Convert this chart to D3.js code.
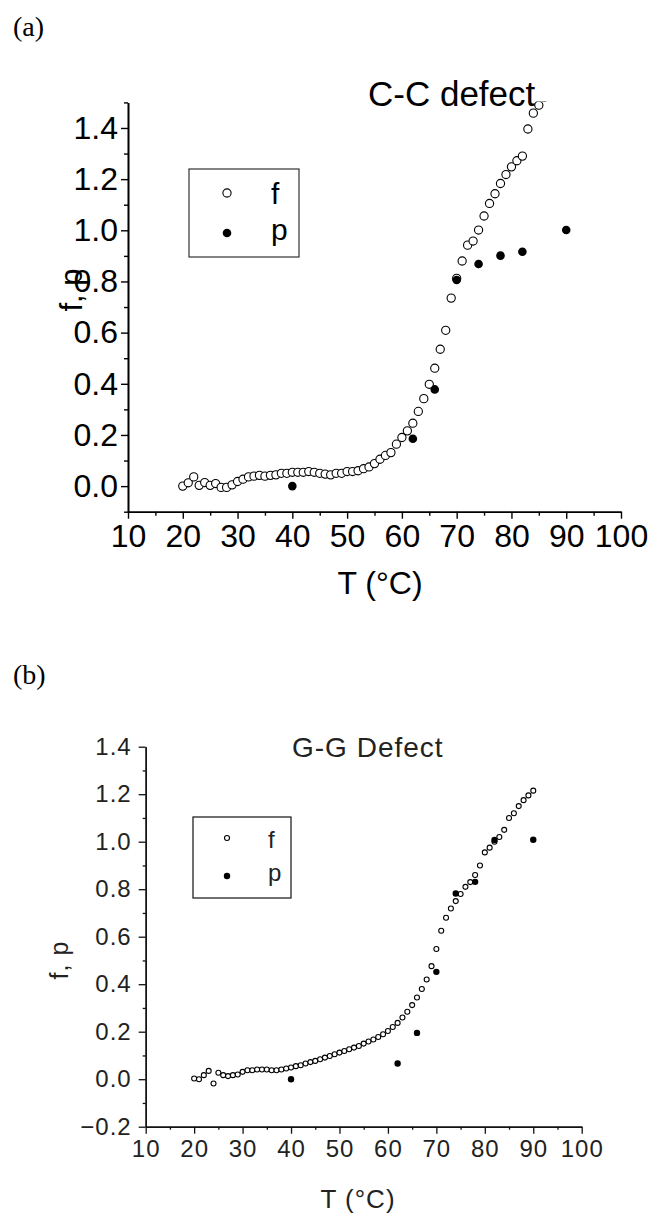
<!DOCTYPE html>
<html>
<head>
<meta charset="utf-8">
<script src="https://cdn.jsdelivr.net/npm/d3@7"></script>
<style>
  html, body { margin: 0; padding: 0; background: #fff; }
  svg { display: block; }
</style>
</head>
<body>
<svg id="chart" width="655" height="1215"></svg>
<script>
// ---------- DATA ----------
const xTicks = [10, 20, 30, 40, 50, 60, 70, 80, 90, 100];

// Panel (a): C-C defect
const aTitle = "C-C defect";
const aYTicks = [0.0, 0.2, 0.4, 0.6, 0.8, 1.0, 1.2, 1.4];
const aT_f = [20,21,22,23,24,25,26,27,28,29,30,31,32,33,34,35,36,37,38,39,40,41,42,43,44,45,46,47,48,49,50,51,52,53,54,55,56,57,58,59,60,61,62,63,64,65,66,67,68,69,70,71,72,73,74,75,76,77,78,79,80,81,82,83,84,85,86];
const aF = [0.000,0.013,0.036,0.003,0.014,0.003,0.010,-0.005,-0.005,0.005,0.018,0.027,0.036,0.039,0.042,0.039,0.042,0.044,0.050,0.050,0.054,0.054,0.054,0.057,0.054,0.050,0.047,0.044,0.050,0.050,0.057,0.057,0.060,0.068,0.075,0.088,0.105,0.120,0.131,0.164,0.190,0.216,0.246,0.292,0.342,0.398,0.461,0.535,0.609,0.735,0.812,0.880,0.942,0.958,1.001,1.056,1.105,1.143,1.183,1.218,1.248,1.272,1.290,1.396,1.458,1.489,1.520];
const aT_p = [40, 62, 66, 70, 74, 78, 82, 90];
const aP = [0.000, 0.185, 0.378, 0.806, 0.868, 0.901, 0.916, 1.001];

// Panel (b): G-G Defect
const bTitle = "G-G Defect";
const bYTicks = [-0.2, 0.0, 0.2, 0.4, 0.6, 0.8, 1.0, 1.2, 1.4];
const bT_f = [20,21,22,23,24,25,26,27,28,29,30,31,32,33,34,35,36,37,38,39,40,41,42,43,44,45,46,47,48,49,50,51,52,53,54,55,56,57,58,59,60,61,62,63,64,65,66,67,68,69,70,71,72,73,74,75,76,77,78,79,80,81,82,83,84,85,86,87,88,89,90];
const bF = [0.003,0.000,0.017,0.035,-0.018,0.027,0.017,0.013,0.017,0.020,0.031,0.038,0.038,0.041,0.041,0.041,0.038,0.038,0.041,0.045,0.049,0.055,0.059,0.066,0.072,0.077,0.084,0.091,0.098,0.105,0.112,0.119,0.126,0.133,0.140,0.150,0.159,0.167,0.178,0.189,0.203,0.220,0.237,0.260,0.284,0.312,0.344,0.380,0.420,0.476,0.548,0.625,0.680,0.719,0.750,0.780,0.810,0.830,0.860,0.900,0.955,0.975,1.000,1.020,1.050,1.100,1.120,1.150,1.175,1.195,1.215];
const bT_p = [40, 62, 66, 70, 74, 78, 82, 90];
const bP = [0.000, 0.066, 0.195, 0.452, 0.782, 0.831, 1.007, 1.008];

const legendLabels = ["f", "p"];
const xTitle = "T (°C)";
const yTitle = "f, p";

// ---------- DRAW ----------
const svg = d3.select("#chart");

function panel(cfg) {
  const g = svg.append("g");
  const x = d3.scaleLinear().domain([10, 100]).range(cfg.xRange);
  const y = d3.scaleLinear().domain(cfg.yDomain).range(cfg.yRange);
  const fmt = d3.format(".1f");

  // panel letter
  g.append("text").attr("x", cfg.letterX).attr("y", cfg.letterY)
    .attr("font-family", "'Liberation Serif', 'Times New Roman', serif")
    .attr("font-size", cfg.letterSize).attr("fill", "#000").text(cfg.letter);

  // clip
  const clipId = "clip" + cfg.letter.replace(/\W/g, "");
  svg.append("clipPath").attr("id", clipId).append("rect")
    .attr("x", cfg.xRange[0]).attr("y", cfg.yRange[1] - 1)
    .attr("width", cfg.xRange[1] - cfg.xRange[0] + 10)
    .attr("height", cfg.yRange[0] - cfg.yRange[1] + 1);

  // minor ticks
  const xMinor = xTicks.slice(0, -1).map(v => v + 5);
  const yMinor = cfg.yMinor;

  const xAxis = g.append("g").attr("transform", `translate(0,${cfg.yRange[0]})`)
    .call(d3.axisBottom(x).tickValues(xTicks).tickSize(cfg.majorLen).tickPadding(cfg.xPad).tickSizeOuter(0).tickFormat(d3.format("d")));
  const xAxisMinor = g.append("g").attr("transform", `translate(0,${cfg.yRange[0]})`)
    .call(d3.axisBottom(x).tickValues(xMinor).tickSize(cfg.minorLen).tickSizeOuter(0).tickFormat(""));
  const yAxis = g.append("g").attr("transform", `translate(${cfg.xRange[0]},0)`)
    .call(d3.axisLeft(y).tickValues(cfg.yTicks).tickSize(cfg.majorLen).tickPadding(cfg.yPad).tickSizeOuter(0).tickFormat(fmt));
  const yAxisMinor = g.append("g").attr("transform", `translate(${cfg.xRange[0]},0)`)
    .call(d3.axisLeft(y).tickValues(yMinor).tickSize(cfg.minorLen).tickSizeOuter(0).tickFormat(""));

  [xAxis, xAxisMinor, yAxis, yAxisMinor].forEach(a => {
    a.selectAll(".domain").attr("stroke", cfg.axisColor).attr("stroke-width", cfg.axisWidth);
    a.selectAll(".tick line").attr("stroke", cfg.axisColor).attr("stroke-width", cfg.tickWidth);
    a.selectAll("text").attr("font-family", cfg.font).attr("font-size", cfg.tickSize)
      .attr("fill", cfg.textColor).attr("letter-spacing", cfg.letterSpacing);
  });

  // axis titles
  g.append("text").attr("x", cfg.xTitleX).attr("y", cfg.xTitleY).attr("text-anchor", "middle")
    .attr("font-family", cfg.font).attr("font-size", cfg.xTitleSize).attr("fill", cfg.textColor)
    .attr("letter-spacing", cfg.letterSpacing).text(xTitle);
  g.append("text").attr("transform", `translate(${cfg.yTitleX},${cfg.yTitleY}) rotate(-90)`)
    .attr("text-anchor", "middle")
    .attr("font-family", cfg.font).attr("font-size", cfg.yTitleSize).attr("fill", cfg.textColor)
    .attr("letter-spacing", cfg.letterSpacing).text(yTitle);

  // chart title
  g.append("text").attr("x", cfg.titleX).attr("y", cfg.titleY)
    .attr("font-family", cfg.font).attr("font-size", cfg.titleSize).attr("fill", cfg.textColor)
    .attr("letter-spacing", cfg.letterSpacing).text(cfg.title);

  // data
  const plot = g.append("g").attr("clip-path", `url(#${clipId})`);
  plot.selectAll("circle.f").data(cfg.tf.map((t, i) => [t, cfg.f[i]])).join("circle")
    .attr("class", "f").attr("cx", d => x(d[0])).attr("cy", d => y(d[1]))
    .attr("r", cfg.rOpen).attr("fill", "#fff").attr("stroke", "#000").attr("stroke-width", cfg.openStroke);
  plot.selectAll("circle.p").data(cfg.tp.map((t, i) => [t, cfg.p[i]])).join("circle")
    .attr("class", "p").attr("cx", d => x(d[0])).attr("cy", d => y(d[1]))
    .attr("r", cfg.rFill).attr("fill", "#000");

  // legend
  const L = cfg.legend;
  g.append("rect").attr("x", L.x0).attr("y", L.y0).attr("width", L.x1 - L.x0).attr("height", L.y1 - L.y0)
    .attr("fill", "#fff").attr("stroke", cfg.legendStroke).attr("stroke-width", 1.2);
  g.append("circle").attr("cx", L.mx).attr("cy", L.fy).attr("r", cfg.rOpen)
    .attr("fill", "#fff").attr("stroke", "#000").attr("stroke-width", cfg.openStroke);
  g.append("circle").attr("cx", L.mx).attr("cy", L.py).attr("r", cfg.rFill).attr("fill", "#000");
  g.append("text").attr("x", L.tx).attr("y", L.fBase).attr("font-family", cfg.font)
    .attr("font-size", L.size).attr("fill", cfg.textColor).text(legendLabels[0]);
  g.append("text").attr("x", L.tx).attr("y", L.pBase).attr("font-family", cfg.font)
    .attr("font-size", L.size).attr("fill", cfg.textColor).text(legendLabels[1]);
}

panel({
  letter: "(a)", letterX: 13, letterY: 36, letterSize: 28,
  xRange: [128, 621], yRange: [511.7, 102.4], yDomain: [-0.1, 1.5],
  yTicks: aYTicks, yMinor: [-0.1, 0.1, 0.3, 0.5, 0.7, 0.9, 1.1, 1.3, 1.5],
  majorLen: 7, minorLen: 4, xPad: 6, yPad: 3,
  font: "'Liberation Sans', Arial, sans-serif", tickSize: 32, textColor: "#000", letterSpacing: 0,
  axisColor: "#000", axisWidth: 1.6, tickWidth: 1.4,
  xTitleX: 380, xTitleY: 594, xTitleSize: 32,
  yTitleX: 82, yTitleY: 290, yTitleSize: 31,
  title: aTitle, titleX: 368, titleY: 106, titleSize: 35,
  tf: aT_f, f: aF, tp: aT_p, p: aP,
  rOpen: 4.1, openStroke: 1.1, rFill: 4.3,
  legendStroke: "#333",
  legend: { x0: 189, y0: 169, x1: 299, y1: 257, mx: 227, fy: 193, py: 233, tx: 271, fBase: 204, pBase: 240, size: 30 }
});

panel({
  letter: "(b)", letterX: 13, letterY: 684, letterSize: 28,
  xRange: [145.7, 581.7], yRange: [1126.7, 746.7], yDomain: [-0.2, 1.4],
  yTicks: bYTicks, yMinor: [-0.1, 0.1, 0.3, 0.5, 0.7, 0.9, 1.1, 1.3],
  majorLen: 7, minorLen: 3, xPad: 6, yPad: 7,
  font: "'Liberation Sans', Arial, sans-serif", tickSize: 24, textColor: "#222", letterSpacing: 1,
  axisColor: "#111", axisWidth: 1.4, tickWidth: 1.3,
  xTitleX: 358, xTitleY: 1208, xTitleSize: 26,
  yTitleX: 68, yTitleY: 960, yTitleSize: 25,
  title: bTitle, titleX: 292, titleY: 757, titleSize: 28,
  tf: bT_f, f: bF, tp: bT_p, p: bP,
  rOpen: 2.5, openStroke: 1.1, rFill: 3.2,
  legendStroke: "#111",
  legend: { x0: 193, y0: 817, x1: 291, y1: 898, mx: 227, fy: 838, py: 876, tx: 268, fBase: 848, pBase: 881, size: 24 }
});
</script>
</body>
</html>
